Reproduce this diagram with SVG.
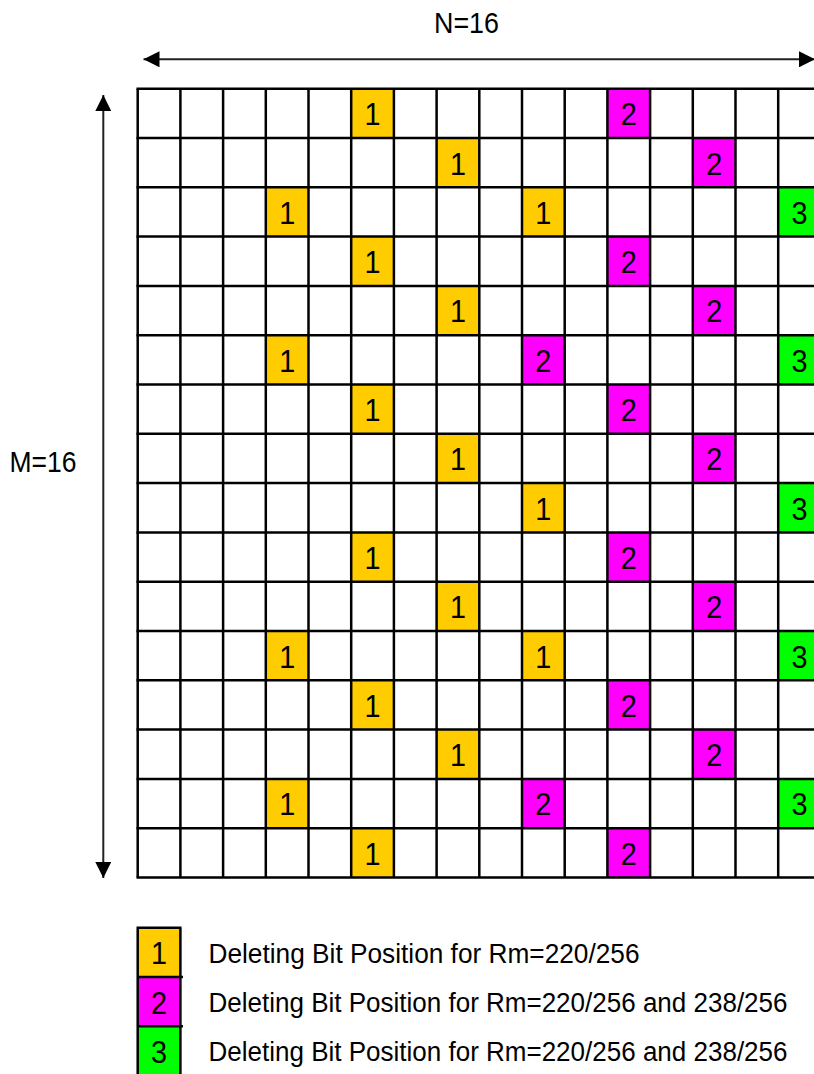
<svg xmlns="http://www.w3.org/2000/svg" width="814" height="1074" viewBox="0 0 814 1074">
<style>
text{font-family:"Liberation Sans",Arial,sans-serif;fill:#000}
.d{font-size:32px;text-anchor:middle}
.lbl{font-size:30px}
.lg{font-size:27px}
.o{fill:#FFCC00}
.m{fill:#FF00FF}
.g{fill:#00FF00}
.gl{stroke:#000;stroke-width:2.5;fill:none}
.ar{stroke:#222;stroke-width:2;fill:none}
</style>
<defs>
<marker id="ah" markerUnits="userSpaceOnUse" markerWidth="16" markerHeight="16" refX="16" refY="8" orient="auto-start-reverse">
<path d="M0,0 L16,8 L0,16 z" fill="#000"/>
</marker>
<g id="c1"><rect class="o" x="0" y="0" width="42.7" height="49.3"/><text class="d" x="21.35" y="36.5" textLength="16" lengthAdjust="spacingAndGlyphs">1</text></g>
<g id="c2"><rect class="m" x="0" y="0" width="42.7" height="49.3"/><text class="d" x="21.35" y="36.5" textLength="16" lengthAdjust="spacingAndGlyphs">2</text></g>
<g id="c3"><rect class="g" x="0" y="0" width="42.7" height="49.3"/><text class="d" x="21.35" y="36.5" textLength="16" lengthAdjust="spacingAndGlyphs">3</text></g>
</defs>
<rect width="814" height="1074" fill="#fff"/>

<g id="labels">
<text class="lbl" x="434" y="33" textLength="65" lengthAdjust="spacingAndGlyphs">N=16</text>
<text class="lbl" x="9.5" y="471.5" textLength="67" lengthAdjust="spacingAndGlyphs">M=16</text>
</g>

<g id="connectors">
<line class="ar" x1="143.5" y1="59.3" x2="815" y2="59.3" marker-start="url(#ah)" marker-end="url(#ah)"/>
<line class="ar" x1="103.3" y1="95" x2="103.3" y2="878" marker-start="url(#ah)" marker-end="url(#ah)"/>
</g>

<g id="cells">
<use href="#c1" x="351.2" y="88.7"/><use href="#c2" x="607.4" y="88.7"/>
<use href="#c1" x="436.6" y="138"/><use href="#c2" x="692.8" y="138"/>
<use href="#c1" x="265.8" y="187.3"/><use href="#c1" x="522" y="187.3"/><use href="#c3" x="778.2" y="187.3"/>
<use href="#c1" x="351.2" y="236.6"/><use href="#c2" x="607.4" y="236.6"/>
<use href="#c1" x="436.6" y="285.9"/><use href="#c2" x="692.8" y="285.9"/>
<use href="#c1" x="265.8" y="335.2"/><use href="#c2" x="522" y="335.2"/><use href="#c3" x="778.2" y="335.2"/>
<use href="#c1" x="351.2" y="384.5"/><use href="#c2" x="607.4" y="384.5"/>
<use href="#c1" x="436.6" y="433.8"/><use href="#c2" x="692.8" y="433.8"/>
<use href="#c1" x="522" y="483.1"/><use href="#c3" x="778.2" y="483.1"/>
<use href="#c1" x="351.2" y="532.4"/><use href="#c2" x="607.4" y="532.4"/>
<use href="#c1" x="436.6" y="581.7"/><use href="#c2" x="692.8" y="581.7"/>
<use href="#c1" x="265.8" y="631"/><use href="#c1" x="522" y="631"/><use href="#c3" x="778.2" y="631"/>
<use href="#c1" x="351.2" y="680.3"/><use href="#c2" x="607.4" y="680.3"/>
<use href="#c1" x="436.6" y="729.6"/><use href="#c2" x="692.8" y="729.6"/>
<use href="#c1" x="265.8" y="778.9"/><use href="#c2" x="522" y="778.9"/><use href="#c3" x="778.2" y="778.9"/>
<use href="#c1" x="351.2" y="828.2"/><use href="#c2" x="607.4" y="828.2"/>
</g>

<g id="grid" class="gl">
<path d="M137.7,88.7 V877.5 M180.4,88.7 V877.5 M223.1,88.7 V877.5 M265.8,88.7 V877.5 M308.5,88.7 V877.5 M351.2,88.7 V877.5 M393.9,88.7 V877.5 M436.6,88.7 V877.5 M479.3,88.7 V877.5 M522,88.7 V877.5 M564.7,88.7 V877.5 M607.4,88.7 V877.5 M650.1,88.7 V877.5 M692.8,88.7 V877.5 M735.5,88.7 V877.5 M778.2,88.7 V877.5"/>
<path d="M136.5,88.7 H820 M136.5,138 H820 M136.5,187.3 H820 M136.5,236.6 H820 M136.5,285.9 H820 M136.5,335.2 H820 M136.5,384.5 H820 M136.5,433.8 H820 M136.5,483.1 H820 M136.5,532.4 H820 M136.5,581.7 H820 M136.5,631 H820 M136.5,680.3 H820 M136.5,729.6 H820 M136.5,778.9 H820 M136.5,828.2 H820 M136.5,877.5 H820"/>
</g>

<g id="legend">
<g id="legend1">
<use href="#c1" x="137.7" y="927.7"/>
<text class="lg" x="208.5" y="963" textLength="431" lengthAdjust="spacingAndGlyphs">Deleting Bit Position for Rm=220/256</text>
</g>
<g id="legend2">
<use href="#c2" x="137.7" y="977"/>
<text class="lg" x="208.5" y="1011.7" textLength="579" lengthAdjust="spacingAndGlyphs">Deleting Bit Position for Rm=220/256 and 238/256</text>
</g>
<g id="legend3">
<use href="#c3" x="137.7" y="1026.3"/>
<text class="lg" x="208.5" y="1060.5" textLength="579" lengthAdjust="spacingAndGlyphs">Deleting Bit Position for Rm=220/256 and 238/256</text>
</g>
<path class="gl" d="M137.7,927.7 V1075 M180.4,927.7 V1075 M136.5,927.7 H181.5 M136.5,977 H183 M136.5,1026.3 H183"/>
</g>
</svg>
